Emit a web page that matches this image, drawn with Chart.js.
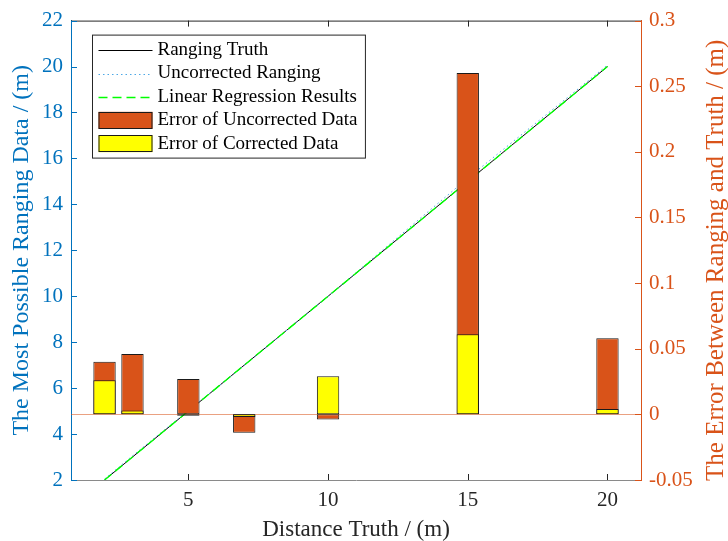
<!DOCTYPE html>
<html>
<head>
<meta charset="utf-8">
<script src="https://cdn.jsdelivr.net/npm/chart.js@4.4.1/dist/chart.umd.min.js"></script>
<style>
  html, body { margin: 0; padding: 0; background: #fff; }
  canvas { display: block; }
</style>
</head>
<body>
<canvas id="myChart" width="728" height="541"></canvas>
<script>
// values
var distances = [2, 3, 5, 7, 10, 15, 20];
var rangingTruth = [2, 3, 5, 7, 10, 15, 20];
var uncorrectedRanging = [2.04, 3.05, 5.03, 6.99, 10.0, 15.14, 20.06];
var regressionResults = [2.0, 3.0, 5.0, 7.0, 10.0, 15.0, 20.0];
var errUncorrected = [0.040, 0.046, 0.027, -0.014, -0.004, 0.260, 0.058];
var errCorrected = [0.026, 0.003, -0.001, -0.002, 0.029, 0.061, 0.004];
var xTicks = [5, 10, 15, 20];

var blue = '#0072BD';
var orange = '#D95319';
var dark = '#262626';
var serif = "'Liberation Serif', 'Times New Roman', serif";
var rightTitle = 'The Error Between Ranging and Truth / (m)';

Chart.defaults.font.family = serif;

function pts(xs, ys) {
    var out = [];
    for (var i = 0; i < xs.length; i++) out.push({x: xs[i], y: ys[i]});
    return out;
}

// bar baseline at zero on the right axis
var baseLine = {
    id: 'baseLine',
    beforeDatasetsDraw: function(chart) {
        var ctx = chart.ctx, a = chart.chartArea;
        var y = Math.round(chart.scales.y2.getPixelForValue(0)) + 0.5;
        ctx.save();
        ctx.strokeStyle = 'rgba(217, 83, 25, 0.55)';
        ctx.lineWidth = 1;
        ctx.beginPath();
        ctx.moveTo(a.left, y);
        ctx.lineTo(a.right, y);
        ctx.stroke();
        ctx.restore();
    }
};

// inward ticks + top border (matlab box style), right title reading upwards
var boxTicks = {
    id: 'boxTicks',
    afterDatasetsDraw: function(chart) {
        var ctx = chart.ctx, a = chart.chartArea, len = 6;
        var sx = chart.scales.x, sy = chart.scales.y, sy2 = chart.scales.y2;
        ctx.save();
        ctx.lineWidth = 1;
        ctx.strokeStyle = dark;
        ctx.beginPath();
        ctx.moveTo(a.left, a.top + 0.5);
        ctx.lineTo(a.right, a.top + 0.5);
        sx.ticks.forEach(function(t) {
            var px = Math.round(sx.getPixelForValue(t.value)) + 0.5;
            ctx.moveTo(px, a.bottom);
            ctx.lineTo(px, a.bottom - len);
            ctx.moveTo(px, a.top);
            ctx.lineTo(px, a.top + len);
        });
        ctx.stroke();

        ctx.strokeStyle = blue;
        ctx.beginPath();
        sy.ticks.forEach(function(t) {
            var py = Math.round(sy.getPixelForValue(t.value)) + 0.5;
            ctx.moveTo(a.left, py);
            ctx.lineTo(a.left + len, py);
        });
        ctx.stroke();

        ctx.strokeStyle = orange;
        ctx.beginPath();
        sy2.ticks.forEach(function(t) {
            var py = Math.round(sy2.getPixelForValue(t.value)) + 0.5;
            ctx.moveTo(a.right, py);
            ctx.lineTo(a.right - len, py);
        });
        ctx.stroke();

        ctx.translate(chart.width - 12, (a.top + a.bottom) / 2 + 10);
        ctx.rotate(-Math.PI / 2);
        ctx.font = '25px ' + serif;
        ctx.fillStyle = orange;
        ctx.textAlign = 'center';
        ctx.textBaseline = 'middle';
        ctx.fillText(rightTitle, 0, 0);
        ctx.restore();
    }
};

// boxed legend in the upper left of the plot
var boxLegend = {
    id: 'boxLegend',
    afterDraw: function(chart) {
        var ctx = chart.ctx, a = chart.chartArea;
        var sets = chart.data.datasets;
        var left = a.left + 21.5, top = a.top + 14.5;
        var rowH = 23.4, sampleW = 54, gap = 5, fontSize = 19;
        ctx.save();
        ctx.font = fontSize + 'px ' + serif;
        var maxW = 0;
        sets.forEach(function(d) { maxW = Math.max(maxW, ctx.measureText(d.label).width); });
        var w = 6 + sampleW + gap + maxW + 8;
        var h = 5 + rowH * sets.length + 1;
        ctx.fillStyle = '#fff';
        ctx.fillRect(left, top, w, h);
        ctx.strokeStyle = dark;
        ctx.lineWidth = 1;
        ctx.strokeRect(left, top, w, h);

        sets.forEach(function(d, i) {
            var cy = top + 15 + i * rowH;
            var sx = left + 6;
            if (d.type === 'line') {
                ctx.strokeStyle = d.borderColor;
                ctx.lineWidth = d.borderWidth;
                ctx.setLineDash(d.borderDash || []);
                ctx.beginPath();
                ctx.moveTo(sx, Math.round(cy) + 0.5);
                ctx.lineTo(sx + sampleW, Math.round(cy) + 0.5);
                ctx.stroke();
                ctx.setLineDash([]);
            } else {
                ctx.fillStyle = d.backgroundColor;
                ctx.fillRect(sx, cy - 8.5, sampleW, 17);
                ctx.strokeStyle = '#1a1a1a';
                ctx.lineWidth = 1;
                ctx.strokeRect(sx + 0.5, Math.round(cy - 8.5) + 0.5, sampleW - 1, 16);
            }
            ctx.fillStyle = '#000';
            ctx.textBaseline = 'middle';
            ctx.textAlign = 'left';
            ctx.fillText(d.label, sx + sampleW + gap, cy);
        });
        ctx.restore();
    }
};

var ctx = document.getElementById('myChart').getContext('2d');

var myChart = new Chart(ctx, {
    type: 'bar',
    data: {
        datasets: [
            {
                type: 'line',
                label: 'Ranging Truth',
                data: pts(distances, rangingTruth),
                borderColor: '#000000',
                borderWidth: 1,
                pointRadius: 0,
                order: 4,
                xAxisID: 'x',
                yAxisID: 'y'
            },
            {
                type: 'line',
                label: 'Uncorrected Ranging',
                data: pts(distances, uncorrectedRanging),
                borderColor: '#4DA8E6',
                borderWidth: 1,
                borderDash: [1.5, 3],
                pointRadius: 0,
                order: 3,
                xAxisID: 'x',
                yAxisID: 'y'
            },
            {
                type: 'line',
                label: 'Linear Regression Results',
                data: pts(distances, regressionResults),
                borderColor: '#00FF00',
                borderWidth: 1.4,
                borderDash: [9, 5],
                pointRadius: 0,
                order: 2,
                xAxisID: 'x',
                yAxisID: 'y'
            },
            {
                type: 'bar',
                label: 'Error of Uncorrected Data',
                data: pts(distances, errUncorrected),
                backgroundColor: orange,
                borderColor: '#1a1a1a',
                borderWidth: 1,
                borderSkipped: false,
                grouped: false,
                categoryPercentage: 0.8,
                barPercentage: 1.0,
                order: 1,
                xAxisID: 'x',
                yAxisID: 'y2'
            },
            {
                type: 'bar',
                label: 'Error of Corrected Data',
                data: pts(distances, errCorrected),
                backgroundColor: '#FFFF00',
                borderColor: '#1a1a1a',
                borderWidth: 1,
                borderSkipped: false,
                grouped: false,
                categoryPercentage: 0.8,
                barPercentage: 1.0,
                order: 0,
                xAxisID: 'x',
                yAxisID: 'y2'
            }
        ]
    },
    options: {
        responsive: false,
        animation: false,
        layout: { padding: { top: 17, left: 0, right: 0, bottom: 0 } },
        plugins: {
            legend: { display: false },
            tooltip: { enabled: false }
        },
        scales: {
            x: {
                type: 'linear',
                position: 'bottom',
                min: 0.8,
                max: 21.2,
                offset: false,
                grid: { display: false, drawTicks: false, offset: false },
                border: { display: true, color: '#8a8a8a', width: 1 },
                afterBuildTicks: function(s) { s.ticks = xTicks.map(function(v) { return {value: v}; }); },
                afterFit: function(s) { s.height = 61; },
                ticks: { color: dark, font: { size: 21 }, padding: 8, maxRotation: 0 },
                title: {
                    display: true,
                    text: 'Distance Truth / (m)',
                    color: dark,
                    font: { size: 23, lineHeight: 1 },
                    padding: { top: 0, bottom: 0 }
                }
            },
            y: {
                type: 'linear',
                position: 'left',
                min: 2,
                max: 22,
                grid: { display: false, drawTicks: false },
                border: { display: true, color: blue, width: 1 },
                afterFit: function(s) { s.width = 71; },
                ticks: { stepSize: 2, color: blue, font: { size: 21 }, padding: 8 },
                title: {
                    display: true,
                    text: 'The Most Possible Ranging Data / (m)',
                    color: blue,
                    font: { size: 24, lineHeight: 1 },
                    padding: { top: 10, bottom: 0 }
                }
            },
            y2: {
                type: 'linear',
                position: 'right',
                min: -0.05,
                max: 0.3,
                grid: { display: false, drawTicks: false },
                border: { display: true, color: orange, width: 1 },
                afterFit: function(s) { s.width = 87; },
                ticks: {
                    stepSize: 0.05,
                    color: orange,
                    font: { size: 21 },
                    padding: 8,
                    callback: function(v) { return String(+v.toFixed(2)); }
                },
                title: { display: false }
            }
        }
    },
    plugins: [baseLine, boxTicks, boxLegend]
});
</script>
</body>
</html>
